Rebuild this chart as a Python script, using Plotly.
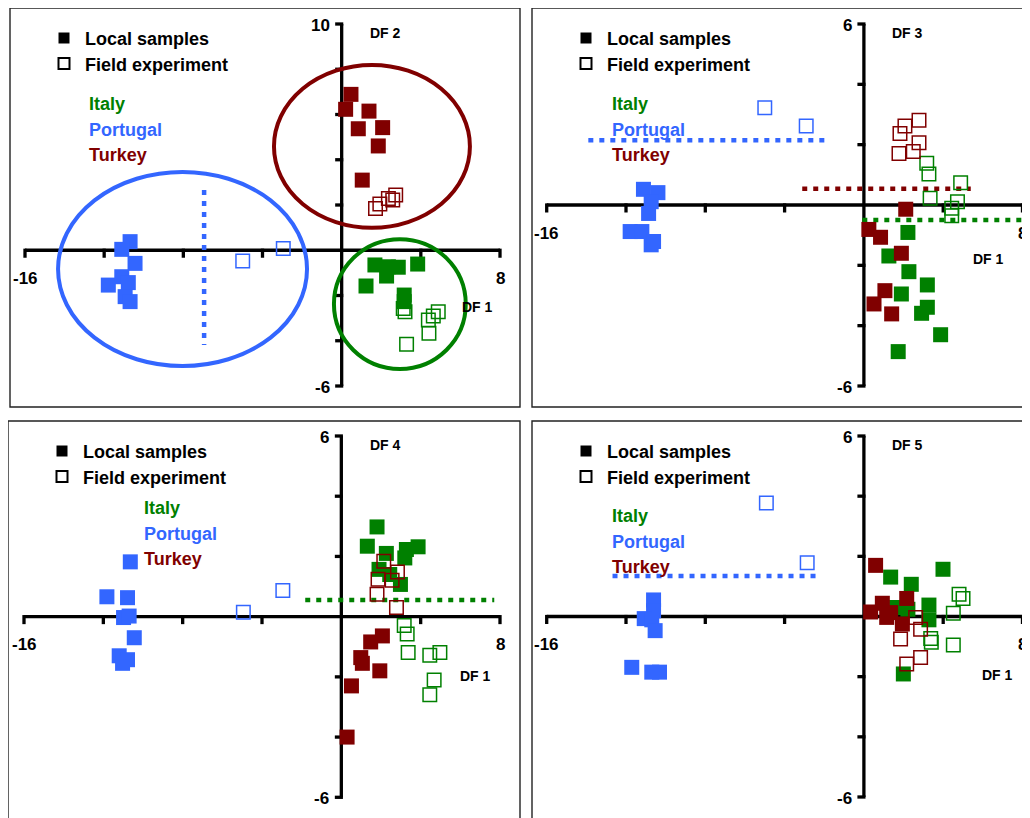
import plotly.graph_objects as go

# The page shows the figure with an 8px body margin; positions below are window pixels.
WIN_W, WIN_H = 1030, 818
OFF = 8
W, H = WIN_W - OFF, WIN_H - OFF
FONT = "Arial, Liberation Sans, sans-serif"

ITALY_C = "rgb(0,128,0)"
PORTUGAL_C = "rgb(51,102,255)"
TURKEY_C = "rgb(128,0,0)"

COUNTRIES = ["Italy", "Portugal", "Turkey"]
LEGEND_LABELS = ["Local samples", "Field experiment"]
X_TICKS = [-16, -12, -8, -4, 4, 8]
Y_TICKS_DF2 = [10, 8, 6, 4, 2, -2, -4, -6]
Y_TICKS_OTHER = [6, 4, 2, -2, -4, -6]

# ---------------- DF1 vs DF2 ----------------
DF2_ITALY_LOCAL = [(1.68, -0.65), (2.36, -0.73), (2.86, -0.75), (2.27, -1.14), (3.84, -0.61),
                   (1.23, -1.58), (3.16, -1.98), (3.16, -2.27)]
DF2_ITALY_FIELD = [(3.11, -2.57), (3.2, -2.72), (4.88, -2.72), (4.63, -2.91), (4.38, -3.08),
                   (4.41, -3.67), (3.28, -4.16)]
DF2_PORTUGAL_LOCAL = [(-10.69, 0.38), (-11.11, 0.04), (-10.44, -0.58), (-11.79, -1.54),
                      (-11.11, -1.17), (-10.78, -1.43), (-10.94, -2.05), (-10.69, -2.27)]
DF2_PORTUGAL_FIELD = [(-5.0, -0.47), (-2.95, 0.08)]
DF2_TURKEY_LOCAL = [(0.47, 6.89), (0.2, 6.23), (1.38, 6.15), (0.84, 5.37), (2.07, 5.42),
                    (1.85, 4.61), (1.04, 3.1)]
DF2_TURKEY_FIELD = [(1.71, 1.85), (1.93, 2.04), (2.36, 2.29), (2.73, 2.44), (2.58, 2.22)]
# ellipses: (cx, cy, rx, ry)
DF2_ELLIPSE_ITALY = (2.94, -2.38, 3.33, 2.87)
DF2_ELLIPSE_PORTUGAL = (-8.04, -0.83, 6.29, 4.29)
DF2_ELLIPSE_TURKEY = (1.53, 4.59, 4.95, 3.6)
# dotted reference line: (x0, y0, x1, y1)
DF2_LINE_PORTUGAL = (-6.95, 2.66, -6.95, -4.19)

# ---------------- DF1 vs DF3 ----------------
DF3_ITALY_LOCAL = [(2.22, -0.91), (1.26, -1.69), (2.27, -2.21), (3.2, -2.65), (1.89, -2.95),
                   (3.2, -3.39), (2.91, -3.59), (3.87, -4.3), (1.73, -4.86)]
DF3_ITALY_FIELD = [(3.17, 1.38), (3.28, 1.03), (4.88, 0.74), (3.34, 0.22), (4.72, 0.11),
                   (4.43, -0.11), (4.43, -0.36)]
DF3_PORTUGAL_LOCAL = [(-11.12, 0.52), (-10.39, 0.41), (-10.73, 0.11), (-10.86, -0.28),
                      (-11.79, -0.88), (-11.2, -0.88), (-10.73, -1.32), (-10.61, -1.21)]
DF3_PORTUGAL_FIELD = [(-5.0, 3.22), (-2.91, 2.62)]
DF3_TURKEY_LOCAL = [(2.11, -0.14), (0.25, -0.81), (0.84, -1.07), (1.89, -1.6), (1.06, -2.84),
                    (0.51, -3.28), (1.4, -3.61)]
DF3_TURKEY_FIELD = [(1.82, 2.37), (2.07, 2.62), (2.78, 2.81), (2.78, 2.06), (1.77, 1.71),
                    (2.49, 1.77)]
DF3_LINE_PORTUGAL = (-13.9, 2.15, -1.78, 2.15)
DF3_LINE_TURKEY = (-3.11, 0.54, 5.39, 0.54)
DF3_LINE_ITALY = (-0.08, -0.5, 9.6, -0.5)

# ---------------- DF1 vs DF4 ----------------
DF4_ITALY_LOCAL = [(1.8, 2.98), (1.31, 2.34), (2.27, 2.1), (3.28, 2.23), (3.87, 2.32),
                   (3.2, 1.95), (1.9, 1.57), (2.44, 1.4), (2.98, 1.07)]
DF4_ITALY_FIELD = [(3.17, -0.29), (3.32, -0.58), (3.37, -1.19), (4.46, -1.28), (4.97, -1.19),
                   (4.68, -2.1), (4.46, -2.59)]
DF4_PORTUGAL_LOCAL = [(-10.64, 1.82), (-11.82, 0.66), (-10.78, 0.63), (-10.98, -0.03),
                      (-10.7, 0.02), (-10.44, -0.7), (-11.2, -1.3), (-10.78, -1.43),
                      (-11.03, -1.55)]
DF4_PORTUGAL_FIELD = [(-4.94, 0.15), (-2.95, 0.87)]
DF4_TURKEY_LOCAL = [(2.07, -0.64), (1.48, -0.84), (0.98, -1.36), (1.06, -1.55), (1.94, -1.8),
                    (0.51, -2.3), (0.29, -4.0)]
DF4_TURKEY_FIELD = [(2.14, 1.84), (2.83, 1.48), (1.85, 1.24), (2.56, 1.21), (1.8, 0.74),
                    (2.78, 0.3)]
DF4_LINE_ITALY = (-1.82, 0.55, 7.71, 0.55)

# ---------------- DF1 vs DF5 ----------------
DF5_ITALY_LOCAL = [(1.35, 1.31), (2.39, 1.07), (3.99, 1.57), (3.28, 0.38), (3.28, -0.11),
                   (2.22, 0.24), (1.65, 0.3), (1.99, -1.91)]
DF5_ITALY_FIELD = [(4.8, 0.74), (5.0, 0.6), (4.51, 0.11), (3.37, -0.73), (3.4, -0.86),
                   (4.51, -0.95)]
DF5_PORTUGAL_LOCAL = [(-10.61, 0.55), (-10.61, 0.19), (-11.08, -0.07), (-10.7, -0.11),
                      (-10.53, -0.47), (-11.71, -1.69), (-10.7, -1.85), (-10.31, -1.85)]
DF5_PORTUGAL_FIELD = [(-4.92, 3.77), (-2.86, 1.79)]
DF5_TURKEY_LOCAL = [(0.59, 1.7), (0.93, 0.44), (0.34, 0.15), (1.35, 0.13), (2.16, 0.6),
                    (1.94, -0.25), (1.15, -0.03)]
DF5_TURKEY_FIELD = [(2.61, -0.03), (2.86, -0.42), (1.85, -0.75), (2.86, -1.36), (2.16, -1.58)]
DF5_LINE_PORTUGAL = (-12.68, 1.35, -2.24, 1.35)

# ---------------- layout (window pixels) ----------------
PANELS = [
    dict(label="DF 2", frame=(10, 8, 520, 407), xpx=(25, 500), ypx=(24, 386), ytop=10,
         yticks=Y_TICKS_DF2, country_pos=(88, 104), df1_off=(-23, 57),
         groups=[(DF2_ITALY_LOCAL, DF2_ITALY_FIELD, ITALY_C),
                 (DF2_PORTUGAL_LOCAL, DF2_PORTUGAL_FIELD, PORTUGAL_C),
                 (DF2_TURKEY_LOCAL, DF2_TURKEY_FIELD, TURKEY_C)],
         ellipses=[(DF2_ELLIPSE_PORTUGAL, PORTUGAL_C), (DF2_ELLIPSE_TURKEY, TURKEY_C),
                   (DF2_ELLIPSE_ITALY, ITALY_C)],
         lines=[(DF2_LINE_PORTUGAL, PORTUGAL_C)]),
    dict(label="DF 3", frame=(532, 8, 1045, 407), xpx=(546.7, 1022.5), ypx=(24, 386), ytop=6,
         yticks=Y_TICKS_OTHER, country_pos=(611, 104), df1_off=(-34, 54),
         groups=[(DF3_ITALY_LOCAL, DF3_ITALY_FIELD, ITALY_C),
                 (DF3_PORTUGAL_LOCAL, DF3_PORTUGAL_FIELD, PORTUGAL_C),
                 (DF3_TURKEY_LOCAL, DF3_TURKEY_FIELD, TURKEY_C)],
         ellipses=[],
         lines=[(DF3_LINE_PORTUGAL, PORTUGAL_C), (DF3_LINE_TURKEY, TURKEY_C),
                (DF3_LINE_ITALY, ITALY_C)]),
    dict(label="DF 4", frame=(8, 421, 520, 830), xpx=(24, 500), ypx=(436, 797.3), ytop=6,
         yticks=Y_TICKS_OTHER, country_pos=(143, 508), df1_off=(-25, 59),
         groups=[(DF4_ITALY_LOCAL, DF4_ITALY_FIELD, ITALY_C),
                 (DF4_PORTUGAL_LOCAL, DF4_PORTUGAL_FIELD, PORTUGAL_C),
                 (DF4_TURKEY_LOCAL, DF4_TURKEY_FIELD, TURKEY_C)],
         ellipses=[],
         lines=[(DF4_LINE_ITALY, ITALY_C)]),
    dict(label="DF 5", frame=(532, 421, 1045, 830), xpx=(546.7, 1022.5), ypx=(436, 797), ytop=6,
         yticks=Y_TICKS_OTHER, country_pos=(611, 516), df1_off=(-25, 58),
         groups=[(DF5_ITALY_LOCAL, DF5_ITALY_FIELD, ITALY_C),
                 (DF5_PORTUGAL_LOCAL, DF5_PORTUGAL_FIELD, PORTUGAL_C),
                 (DF5_TURKEY_LOCAL, DF5_TURKEY_FIELD, TURKEY_C)],
         ellipses=[],
         lines=[(DF5_LINE_PORTUGAL, PORTUGAL_C)]),
]


def pxx(px):
    return (px - OFF) / W


def pxy(py):
    return 1 - (py - OFF) / H


fig = go.Figure()
shapes = []
annotations = []
layout_axes = {}
AXIS_W = 3.3
COUNTRY_COLORS = [ITALY_C, PORTUGAL_C, TURKEY_C]


def bold(s, c="black"):
    return dict(size=s, color=c, family=FONT, weight="bold")


for i, p in enumerate(PANELS):
    n = "" if i == 0 else str(i + 1)
    xref, yref = "x" + n, "y" + n
    L, T, R, B = p["frame"]
    Ld, Td = max(L, OFF), max(T, OFF)
    Rd, Bd = min(R, OFF + W), min(B, OFF + H)
    a, b = p["xpx"]
    yt, yb = p["ypx"]
    ytop = p["ytop"]
    sx = (b - a) / 24.0
    sy = (yb - yt) / (ytop + 6.0)
    y0px = yt + ytop * sy
    xr = [-16 - (a - Ld) / sx, 8 + (Rd - b) / sx]
    yr = [-6 - (Bd - yb) / sy, ytop + (yt - Td) / sy]
    layout_axes["xaxis" + n] = dict(domain=[pxx(Ld), pxx(Rd)], range=xr, visible=False,
                                    fixedrange=True, anchor=yref)
    layout_axes["yaxis" + n] = dict(domain=[pxy(Bd), pxy(Td)], range=yr, visible=False,
                                    fixedrange=True, anchor=xref)
    axis_x_px = a + 16 * sx

    # frame
    shapes.append(dict(type="rect", xref="paper", yref="paper", x0=pxx(L), x1=pxx(R),
                       y0=pxy(B), y1=pxy(T), line=dict(color="#222", width=1.4),
                       layer="below"))
    # axes
    shapes.append(dict(type="line", xref=xref, yref=yref, x0=-16, x1=8, y0=0, y1=0,
                       line=dict(color="black", width=AXIS_W), layer="between"))
    shapes.append(dict(type="line", xref=xref, yref=yref, x0=0, x1=0, y0=-6, y1=ytop,
                       line=dict(color="black", width=AXIS_W), layer="between"))
    for xt in X_TICKS:
        shapes.append(dict(type="line", xref=xref, yref=yref, ysizemode="pixel", yanchor=0,
                           x0=xt, x1=xt, y0=1.6, y1=-7.5,
                           line=dict(color="black", width=AXIS_W), layer="between"))
    for ytk in p["yticks"]:
        shapes.append(dict(type="line", xref=xref, yref=yref, xsizemode="pixel", xanchor=0,
                           x0=1.6, x1=-6.5, y0=ytk, y1=ytk,
                           line=dict(color="black", width=AXIS_W), layer="between"))

    # dotted reference lines
    for (x0, y0, x1, y1), col in p["lines"]:
        shapes.append(dict(type="line", xref=xref, yref=yref, x0=x0, y0=y0, x1=x1, y1=y1,
                           line=dict(color=col, width=4.5, dash="5px,6px"), layer="between"))
    # ellipses
    for (cx, cy, rx, ry), col in p["ellipses"]:
        shapes.append(dict(type="circle", xref=xref, yref=yref, x0=cx - rx, x1=cx + rx,
                           y0=cy - ry, y1=cy + ry, line=dict(color=col, width=4),
                           layer="above"))

    # points
    for local, field, col in p["groups"]:
        fig.add_trace(go.Scatter(x=[q[0] for q in local], y=[q[1] for q in local],
                                 mode="markers", xaxis=xref, yaxis=yref, showlegend=False,
                                 marker=dict(symbol="square", size=15, color=col,
                                             line=dict(width=0)),
                                 cliponaxis=False))
        fig.add_trace(go.Scatter(x=[q[0] for q in field], y=[q[1] for q in field],
                                 mode="markers", xaxis=xref, yaxis=yref, showlegend=False,
                                 marker=dict(symbol="square-open", size=13.5, color=col,
                                             line=dict(width=1.5, color=col)),
                                 cliponaxis=False))

    # tick labels
    annotations.append(dict(x=pxx(axis_x_px - 10), y=pxy(yt + 1), xref="paper", yref="paper",
                            text=str(ytop), showarrow=False, xanchor="right",
                            yanchor="middle", font=bold(17)))
    annotations.append(dict(x=pxx(axis_x_px - 10), y=pxy(yb + 1), xref="paper", yref="paper",
                            text="-6", showarrow=False, xanchor="right", yanchor="middle",
                            font=bold(17)))
    annotations.append(dict(x=pxx(a), y=pxy(y0px + 28), xref="paper", yref="paper",
                            text="-16", showarrow=False, xanchor="center", yanchor="middle",
                            font=bold(17)))
    annotations.append(dict(x=pxx(b), y=pxy(y0px + 28), xref="paper", yref="paper",
                            text="8", showarrow=False, xanchor="center", yanchor="middle",
                            font=bold(17)))
    # axis titles
    annotations.append(dict(x=pxx(axis_x_px + 44), y=pxy(yt + 9), xref="paper", yref="paper",
                            text=p["label"], showarrow=False, xanchor="center",
                            yanchor="middle", font=bold(14)))
    dx, dy = p["df1_off"]
    annotations.append(dict(x=pxx(b + dx), y=pxy(y0px + dy), xref="paper", yref="paper",
                            text="DF 1", showarrow=False, xanchor="center",
                            yanchor="middle", font=bold(14)))
    # legend
    sqx, sqy = L + 54, T + 30
    for k, lab in enumerate(LEGEND_LABELS):
        cy = sqy + 25.5 * k
        filled = k == 0
        shapes.append(dict(type="rect", xref="paper", yref="paper",
                           x0=pxx(sqx - 5.5), x1=pxx(sqx + 5.5),
                           y0=pxy(cy + 5.5), y1=pxy(cy - 5.5),
                           fillcolor="black" if filled else "rgba(0,0,0,0)",
                           line=dict(color="black", width=0 if filled else 2),
                           layer="above"))
        annotations.append(dict(x=pxx(sqx + 19), y=pxy(cy + 1), xref="paper", yref="paper",
                                text=lab, showarrow=False, xanchor="left", yanchor="middle",
                                font=bold(18)))
    cx0, cy0 = p["country_pos"]
    for k, (cn, cc) in enumerate(zip(COUNTRIES, COUNTRY_COLORS)):
        annotations.append(dict(x=pxx(cx0 - 1), y=pxy(cy0 + 25.5 * k), xref="paper",
                                yref="paper", text=cn, showarrow=False, xanchor="left",
                                yanchor="middle", font=bold(18, cc)))

fig.update_layout(width=W, height=H, margin=dict(l=0, r=0, t=0, b=0),
                  paper_bgcolor="white", plot_bgcolor="rgba(0,0,0,0)",
                  shapes=shapes, annotations=annotations, showlegend=False,
                  **layout_axes)
fig.write_html("out.html")
